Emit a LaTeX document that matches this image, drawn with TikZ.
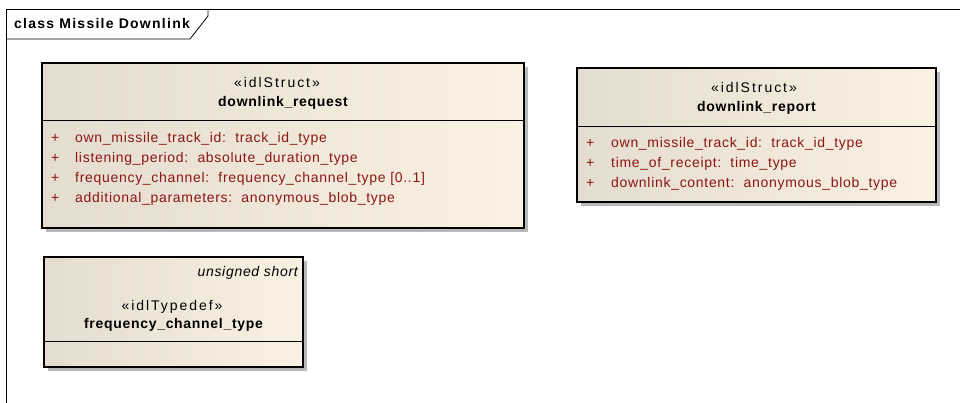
\documentclass[tikz,border=0pt]{standalone}
\usepackage{fontspec}
\setmainfont{Liberation Sans}[LetterSpace=5]
\usetikzlibrary{calc}
\definecolor{fillL}{RGB}{228,220,206}
\definecolor{fillR}{RGB}{250,241,226}
\definecolor{attr}{RGB}{140,22,22}
\definecolor{shade}{RGB}{185,185,185}
\tikzset{
  x=1pt, y=-1pt,
  umlbox/.style={draw=black, line width=1.1pt, left color=fillL, right color=fillR, inner sep=0pt},
  shadowbox/.style={fill=shade, draw=none},
  stereo/.style={font=\fontsize{14}{16}\selectfont\addfontfeature{LetterSpace=14}, inner sep=0pt, anchor=base},
  cname/.style={font=\fontsize{14}{16}\selectfont\bfseries, inner sep=0pt, anchor=base},
  attrtxt/.style={font=\fontsize{14}{16}\selectfont, text=attr, inner sep=0pt, anchor=base west},
  divider/.style={draw=black, line width=1pt},
  frameline/.style={draw=black, line width=0.8pt}
}
\begin{document}
\begin{tikzpicture}
\useasboundingbox (0,0) rectangle (960,403);
% frame
\draw[frameline] (960,9) -- (6,9) -- (6,403);
\draw[frameline] (6,39) -- (190,39) -- (208,16) -- (208,9);
\node[cname, anchor=base west, font=\fontsize{14}{16}\selectfont\bfseries\addfontfeature{LetterSpace=9}] (title) at (14,29) {class Missile Downlink};

% downlink_request
\fill[shadowbox] (46,67) rectangle (528,232);
\draw[umlbox] (42,63) rectangle (524,228);
\coordinate (reqL) at (42,121);
\coordinate (reqR) at (524,121);
\draw[divider] (reqL) -- (reqR);
\node[stereo] (reqst) at (277,88) {«idlStruct»};
\node[cname] (reqnm) at (283,107) {downlink\_request};
\node[attrtxt] (rp1) at (51,143) {+};
\node[attrtxt] (ra1) at (75,143) {own\_missile\_track\_id:\ \ track\_id\_type};
\node[attrtxt] (rp2) at (51,163) {+};
\node[attrtxt] (ra2) at (75,163) {listening\_period:\ \ absolute\_duration\_type};
\node[attrtxt] (rp3) at (51,183) {+};
\node[attrtxt] (ra3) at (75,183) {frequency\_channel:\ \ frequency\_channel\_type [0..1]};
\node[attrtxt] (rp4) at (51,203) {+};
\node[attrtxt] (ra4) at (75,203) {additional\_parameters:\ \ anonymous\_blob\_type};

% downlink_report
\fill[shadowbox] (581,72) rectangle (940,206);
\draw[umlbox] (577,68) rectangle (936,202);
\coordinate (repL) at (577,127);
\coordinate (repR) at (936,127);
\draw[divider] (repL) -- (repR);
\node[stereo] (repst) at (754,93) {«idlStruct»};
\node[cname] (repnm) at (756.5,112) {downlink\_report};
\node[attrtxt] (pp1) at (586,148) {+};
\node[attrtxt] (pa1) at (611,148) {own\_missile\_track\_id:\ \ track\_id\_type};
\node[attrtxt] (pp2) at (586,168) {+};
\node[attrtxt] (pa2) at (611,168) {time\_of\_receipt:\ \ time\_type};
\node[attrtxt] (pp3) at (586,188) {+};
\node[attrtxt] (pa3) at (611,188) {downlink\_content:\ \ anonymous\_blob\_type};

% frequency_channel_type
\fill[shadowbox] (48,261) rectangle (307,371);
\draw[umlbox] (44,257) rectangle (303,367);
\coordinate (fctL) at (44,341);
\coordinate (fctR) at (303,341);
\draw[divider] (fctL) -- (fctR);
\node[attrtxt, text=black, anchor=base east, font=\fontsize{14}{16}\selectfont\itshape] (fctus) at (298,276) {unsigned short};
\node[stereo] (fctst) at (172,310) {«idlTypedef»};
\node[cname] (fctnm) at (173.5,328) {frequency\_channel\_type};
\end{tikzpicture}
\end{document}
